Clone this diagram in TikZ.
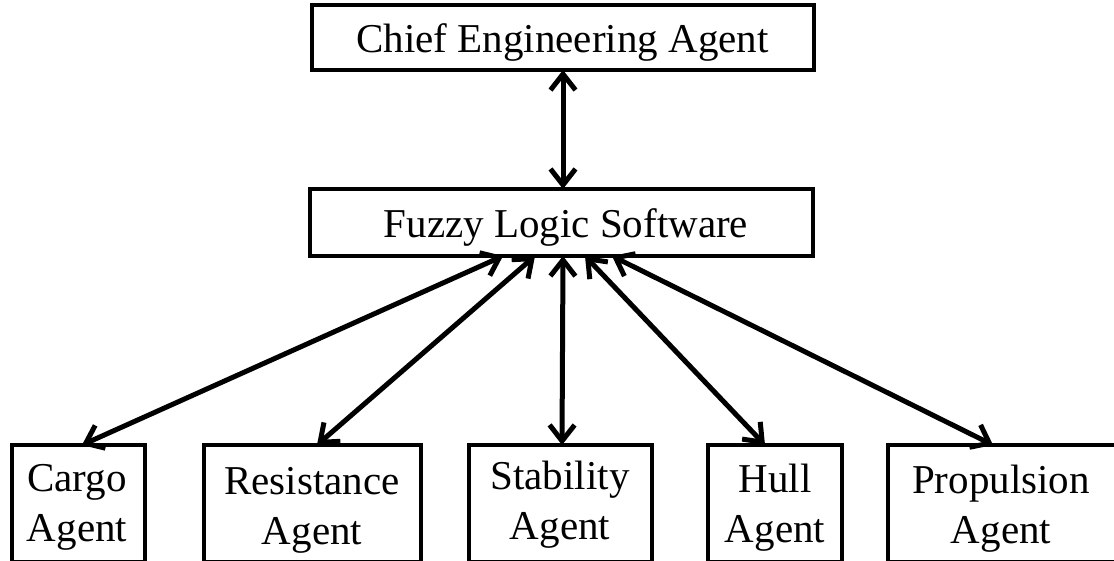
\documentclass[tikz,border=0pt]{standalone}
\usepackage{fontspec}
\setmainfont{Liberation Serif}
\usetikzlibrary{arrows.meta}
\begin{document}
\begin{tikzpicture}[x=1pt,y=-1pt,
  box/.style={draw=black,line width=4pt,rectangle,inner sep=0pt,outer sep=0pt},
  lbl/.style={inner sep=0pt,align=center,text=black,font=\fontsize{41}{50}\selectfont},
  link/.style={line width=5pt,{Straight Barb[length=16pt,width=25pt]}-{Straight Barb[length=16pt,width=25pt]}}]
\useasboundingbox (0,0) rectangle (1114,560);
\clip (0,0) rectangle (1114,560);
% boxes
\node[box,minimum width=502pt,minimum height=65pt] (chief) at (563,37.5) {};
\node[box,minimum width=503pt,minimum height=67pt] (fuzzy) at (561.5,222.5) {};
\node[box,minimum width=133pt,minimum height=117pt] (cargo) at (78.5,503.5) {};
\node[box,minimum width=217pt,minimum height=117pt] (resist) at (312.5,503.5) {};
\node[box,minimum width=183pt,minimum height=117pt] (stab) at (560.5,503.5) {};
\node[box,minimum width=134pt,minimum height=117pt] (hull) at (775,503.5) {};
\node[box,minimum width=228pt,minimum height=117pt] (prop) at (1002,503.5) {};
% labels
\node[lbl] (chiefT) at (562.5,42.5) {Chief Engineering Agent};
\node[lbl] (fuzzyT) at (566,227.5) {Fuzzy Logic Software};
\node[lbl] (cargoT) at (77,507) {Cargo\\Agent};
\node[lbl] (resistT) at (312,510) {Resistance\\Agent};
\node[lbl] (stabT) at (560,505) {Stability\\Agent};
\node[lbl] (hullT) at (775,508) {Hull\\Agent};
\node[lbl] (propT) at (1001,509) {Propulsion\\Agent};
% connectors
\draw[link] (chief.south) -- ([xshift=1.5pt]fuzzy.north);
\draw[link] ([xshift=-58.5pt]fuzzy.south) -- ([xshift=3.5pt]cargo.north);
\draw[link] ([xshift=-26.5pt]fuzzy.south) -- ([xshift=4.5pt]resist.north);
\draw[link] ([xshift=1.5pt]fuzzy.south) -- ([xshift=1.5pt]stab.north);
\draw[link] ([xshift=23.5pt]fuzzy.south) -- ([xshift=-10pt]hull.north);
\draw[link] ([xshift=50.5pt]fuzzy.south) -- ([xshift=-9pt]prop.north);
\end{tikzpicture}
\end{document}
